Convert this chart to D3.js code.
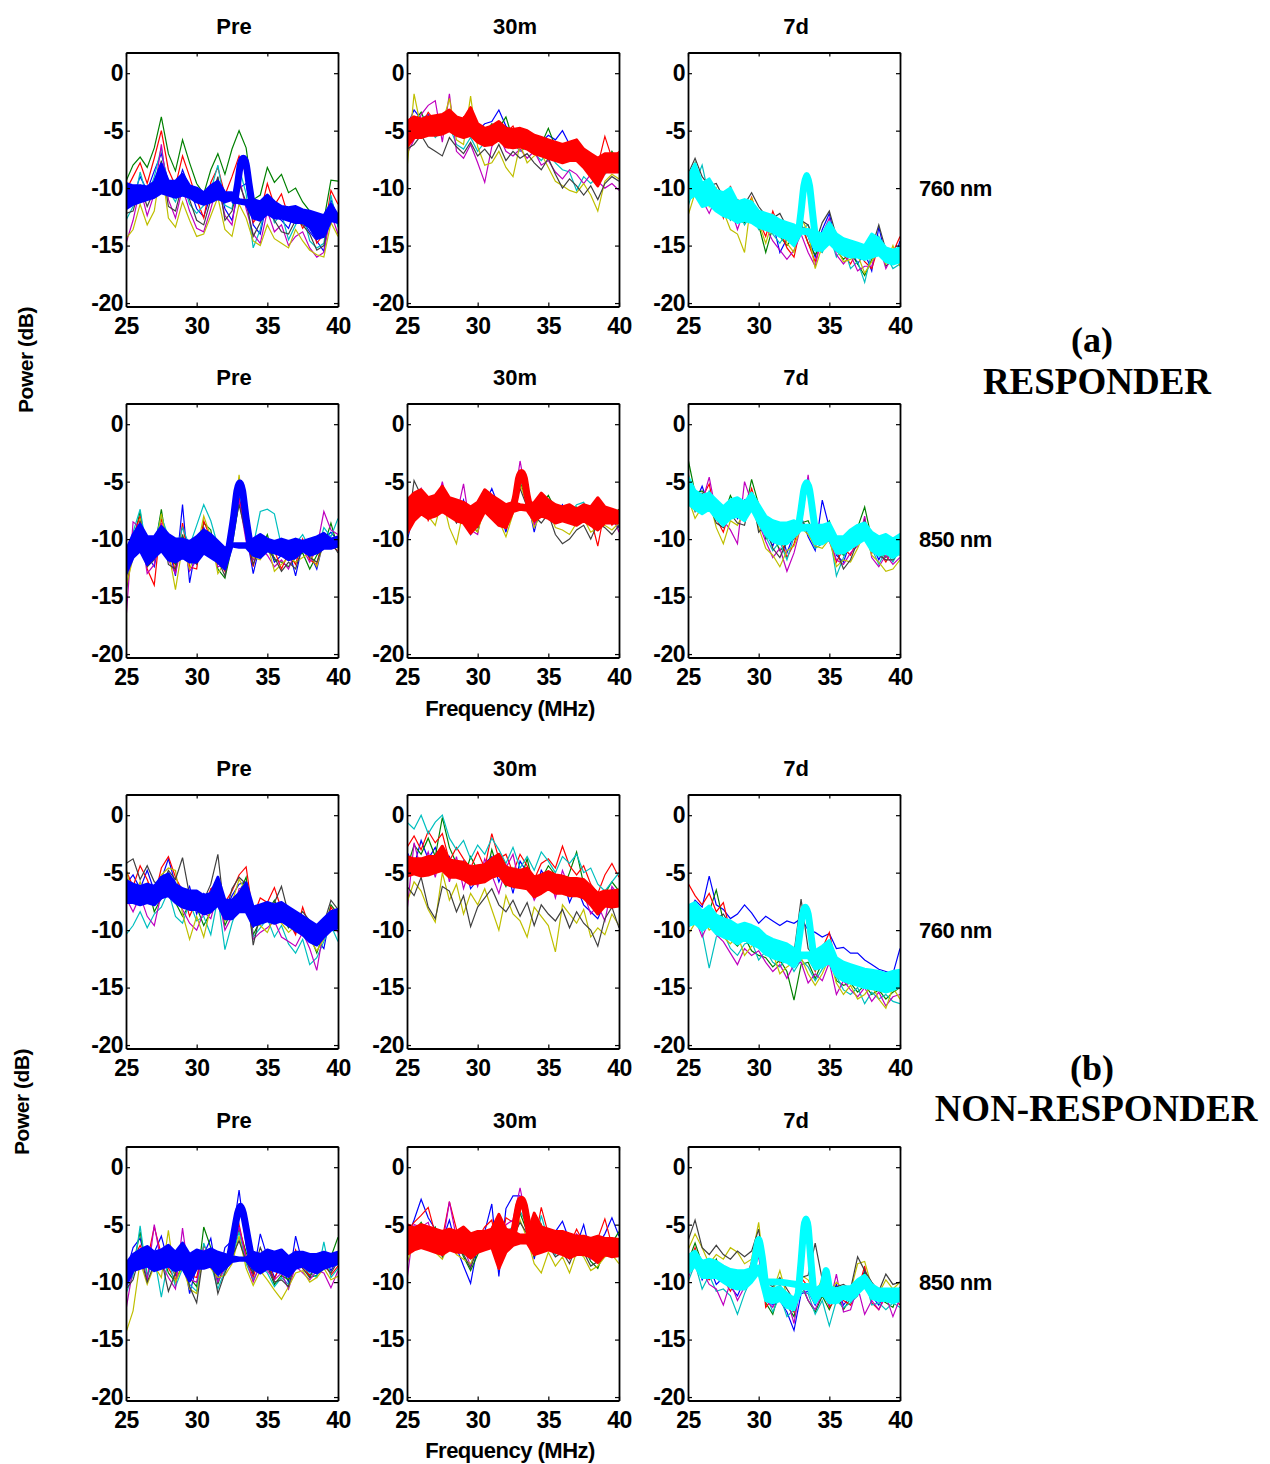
<!DOCTYPE html>
<html>
<head>
<meta charset="utf-8">
<script src="https://cdn.jsdelivr.net/npm/d3@7"></script>
<style>
  body { margin: 0; background: #fff; }
  svg { display: block; }
</style>
</head>
<body>
<script>
'use strict';

// frequency grid (MHz) shared by every trace
const freq = [25, 25.5, 26, 26.5, 27, 27.5, 28, 28.5, 29, 29.5, 30, 30.5, 31, 31.5, 32, 32.5,
  33, 33.5, 34, 34.5, 35, 35.5, 36, 36.5, 37, 37.5, 38, 38.5, 39, 39.5, 40];

const xTicks = [25, 30, 35, 40];
const yTicks = [0, -5, -10, -15, -20];
const sessions = ['Pre', '30m', '7d'];
const wavelengths = ['760 nm', '850 nm', '760 nm', '850 nm'];
// matlab default line order: b g r c m y k
const traceColors = ['#0000ff', '#008000', '#ff0000', '#00bfbf', '#bf00bf', '#bfbf00', '#404040'];
const meanColors = ['#0000ff', '#ff0000', '#00ffff'];

// ---------- RESPONDER, 760 nm ----------
const thinResp760Pre = [
  [-11.5,-10.8,-9.0,-10.2,-8.5,  -7.0,-9.5,-10.4,-8.4,-10.0,  -11.8,-12.5,-10.6,-9.2,-11.8,  -12.8,-10.0,-9.6,-13.2,-14.0,  -11.0,-12.4,-12.8,-13.5,-11.8,  -12.9,-13.8,-14.6,-15.5,-11.0,  -12.6],
  [-9.4,-8.0,-7.3,-8.2,-6.5,  -3.8,-7.0,-8.5,-5.8,-7.8,  -9.6,-10.5,-8.4,-7.0,-8.8,  -6.6,-5.0,-6.5,-11.0,-10.6,  -8.2,-9.5,-8.8,-10.4,-10.0,  -11.2,-12.0,-13.5,-12.8,-9.3,  -9.4],
  [-10.2,-9.0,-7.8,-9.6,-7.4,  -5.0,-8.4,-9.8,-7.2,-9.0,  -11.0,-12.6,-9.5,-8.2,-10.6,  -9.0,-7.2,-8.8,-13.0,-12.2,  -9.6,-11.5,-10.5,-12.5,-12.0,  -13.5,-12.6,-14.8,-14.0,-10.2,  -11.4],
  [-12.8,-11.6,-8.6,-10.8,-9.0,  -6.5,-10.2,-11.2,-9.4,-11.4,  -12.2,-11.5,-10.2,-8.0,-11.5,  -11.8,-8.2,-10.5,-15.2,-13.6,  -10.8,-13.0,-12.2,-14.5,-13.2,  -12.2,-14.6,-15.2,-14.8,-10.6,  -13.4],
  [-14.8,-12.8,-10.0,-12.4,-10.5,  -6.2,-11.0,-12.6,-10.0,-12.0,  -13.5,-13.8,-11.8,-9.6,-12.4,  -13.2,-9.0,-11.8,-14.0,-14.8,  -12.0,-13.8,-13.2,-15.0,-14.2,  -13.8,-15.2,-16.0,-15.6,-12.2,  -14.0],
  [-14.4,-13.6,-11.4,-13.2,-12.0,  -8.0,-12.6,-13.4,-11.2,-12.8,  -14.2,-14.0,-12.4,-10.8,-13.6,  -14.2,-11.4,-12.6,-14.6,-15.0,  -13.2,-14.4,-14.8,-15.2,-13.6,  -14.6,-15.4,-15.8,-16.0,-13.0,  -14.2],
  [-12.2,-12.0,-9.8,-11.6,-10.2,  -7.6,-11.6,-12.0,-9.6,-11.0,  -12.8,-13.2,-11.0,-9.0,-12.8,  -12.0,-9.6,-11.2,-14.2,-13.0,  -11.6,-12.8,-13.8,-14.0,-12.8,  -13.2,-14.0,-15.4,-15.0,-11.8,  -13.0]
];
const hiResp760Pre = [-9.6,-9.8,-9.8,-9.9,-9.5,  -7.9,-9.4,-9.4,-8.8,-9.8,  -10.0,-10.4,-9.8,-9.4,-10.4,  -10.4,-11.0,-11.1,-11.0,-11.2,  -10.6,-11.2,-11.6,-11.7,-11.6,  -11.9,-12.0,-12.2,-12.4,-11.4,  -12.4];
const loResp760Pre = [-11.8,-11.4,-11.2,-11.0,-10.8,  -10.4,-10.6,-10.8,-10.6,-10.8,  -11.2,-11.4,-11.2,-10.9,-11.2,  -11.0,-11.3,-11.4,-12.6,-12.8,  -12.2,-12.6,-12.6,-12.8,-13.0,  -13.0,-13.4,-14.4,-14.2,-12.8,  -13.0];
const peaksResp760Pre = [
  [[32.7,-11.1],[32.9,-9.6],[33.1,-7.9],[33.3,-7.4],[33.5,-7.9],[33.7,-9.6],[33.9,-11.2]]
];

const thinResp760_30m = [
  [-4.6,-3.2,-4.0,-3.6,-4.4,  -3.8,-3.6,-4.4,-4.8,-4.0,  -5.0,-4.4,-4.2,-3.2,-4.6,  -5.2,-4.8,-5.4,-5.6,-6.0,  -5.4,-5.8,-5.0,-6.2,-6.8,  -7.4,-8.2,-9.2,-8.0,-7.6,  -7.2],
  [-5.4,-4.2,-3.4,-4.8,-4.0,  -3.6,-4.8,-5.4,-4.2,-4.8,  -5.6,-5.2,-4.4,-4.8,-3.8,  -5.8,-5.6,-6.2,-5.4,-6.2,  -4.8,-6.4,-6.6,-6.8,-7.4,  -7.0,-7.6,-8.8,-8.2,-6.8,  -7.8],
  [-4.8,-4.4,-4.6,-3.4,-4.2,  -4.6,-4.0,-5.0,-3.8,-3.6,  -5.4,-5.8,-4.8,-4.4,-5.2,  -4.6,-6.0,-5.6,-6.4,-5.8,  -6.2,-6.6,-7.2,-7.0,-6.4,  -7.8,-8.4,-8.0,-5.5,-7.4,  -6.8],
  [-6.2,-5.6,-5.0,-4.4,-5.6,  -5.0,-4.6,-6.2,-6.6,-5.6,  -6.8,-6.0,-5.6,-5.0,-6.2,  -6.0,-6.8,-6.4,-7.0,-7.6,  -6.8,-7.8,-8.4,-8.6,-10.2,  -9.0,-9.6,-9.0,-8.8,-8.2,  -8.6],
  [-7.0,-5.8,-3.6,-2.8,-2.4,  -6.0,-1.8,-6.8,-7.4,-6.2,  -7.8,-9.5,-6.4,-5.4,-6.8,  -7.2,-6.6,-7.4,-6.8,-8.0,  -7.6,-8.6,-9.2,-8.4,-8.8,  -9.6,-8.8,-9.4,-10.0,-9.6,  -10.2],
  [-8.3,-1.8,-4.8,-4.2,-5.2,  -4.4,-2.2,-5.8,-6.2,-2.0,  -6.4,-8.0,-7.8,-6.8,-8.2,  -9.0,-6.2,-7.8,-7.2,-7.0,  -8.2,-9.4,-9.8,-10.2,-10.4,  -9.6,-10.6,-12.0,-9.4,-8.8,  -9.2],
  [-6.6,-6.2,-5.4,-6.4,-6.8,  -7.2,-5.6,-6.4,-7.0,-6.0,  -7.2,-6.6,-7.4,-6.2,-7.6,  -6.8,-7.4,-7.0,-7.8,-8.4,  -7.4,-8.8,-10.0,-9.2,-9.8,  -10.6,-9.8,-11.0,-9.6,-9.0,  -9.4]
];
const hiResp760_30m = [-4.2,-3.8,-4.0,-3.8,-3.7,  -3.6,-3.2,-3.8,-4.0,-3.0,  -4.4,-4.8,-4.6,-4.2,-4.8,  -4.9,-4.8,-5.0,-5.4,-5.6,  -5.8,-6.0,-6.2,-6.0,-5.8,  -6.6,-7.0,-7.4,-7.0,-7.0,  -7.0];
const loResp760_30m = [-6.4,-5.6,-5.6,-5.4,-5.4,  -5.3,-5.0,-5.4,-5.6,-5.4,  -6.0,-6.3,-6.2,-5.8,-6.4,  -6.5,-6.4,-6.6,-7.0,-7.2,  -7.4,-7.6,-7.8,-7.6,-7.6,  -8.2,-9.0,-9.8,-8.6,-8.6,  -8.6];
const peaksResp760_30m = [];

const thinResp760_7d = [
  [-10.4,-8.2,-10.8,-9.6,-11.6,  -11.2,-12.4,-11.4,-12.2,-11.8,  -12.4,-13.6,-13.0,-15.6,-14.4,  -15.0,-13.4,-14.2,-16.0,-13.6,  -12.2,-15.0,-15.6,-15.2,-16.6,  -15.6,-17.2,-13.4,-16.0,-16.6,  -14.6],
  [-9.6,-7.8,-11.2,-10.4,-11.2,  -12.2,-10.8,-12.8,-13.0,-12.6,  -13.2,-15.6,-13.4,-14.2,-15.0,  -14.2,-13.0,-14.8,-15.8,-14.8,  -13.4,-15.4,-16.2,-15.6,-16.6,  -17.6,-16.2,-14.6,-16.8,-16.2,  -15.4],
  [-10.8,-8.8,-10.2,-11.4,-10.6,  -12.6,-9.8,-12.0,-12.4,-10.8,  -12.8,-14.2,-12.0,-13.6,-15.2,  -16.0,-13.2,-14.8,-16.4,-14.4,  -13.0,-14.4,-15.8,-16.6,-15.4,  -16.4,-17.0,-15.0,-16.2,-15.6,  -14.2],
  [-11.6,-9.6,-8.0,-10.8,-11.8,  -11.6,-12.8,-11.8,-13.2,-12.2,  -13.6,-12.6,-14.0,-14.8,-13.8,  -14.4,-13.6,-13.2,-15.2,-15.6,  -14.0,-16.0,-15.0,-17.0,-16.4,  -18.2,-15.6,-14.2,-15.8,-17.0,  -16.6],
  [-10.2,-9.0,-11.0,-12.2,-10.8,  -11.8,-11.6,-13.6,-11.8,-12.8,  -12.2,-13.4,-14.6,-15.4,-16.2,  -15.4,-14.0,-15.6,-16.8,-14.0,  -12.6,-15.8,-16.6,-15.8,-17.2,  -16.8,-16.8,-14.8,-17.0,-15.8,  -15.2],
  [-12.4,-10.4,-9.6,-11.6,-10.0,  -12.0,-13.6,-14.0,-15.6,-10.8,  -13.0,-14.8,-12.8,-13.2,-14.8,  -15.6,-12.6,-13.8,-17.0,-15.0,  -13.6,-15.2,-16.4,-16.2,-15.8,  -17.4,-16.4,-15.4,-16.6,-15.0,  -16.8],
  [-8.8,-7.4,-9.0,-9.8,-9.6,  -10.8,-11.2,-11.0,-11.4,-10.4,  -11.6,-12.4,-12.6,-12.2,-13.4,  -13.8,-12.8,-13.2,-14.8,-13.0,  -12.0,-14.2,-14.6,-15.2,-15.0,  -16.0,-15.2,-13.2,-15.4,-16.0,  -15.8]
];
const hiResp760_7d = [-9.0,-7.9,-9.6,-9.2,-10.2,  -10.4,-10.0,-11.2,-11.0,-11.2,  -12.0,-12.2,-12.4,-12.8,-13.0,  -13.2,-13.6,-13.6,-13.8,-14.0,  -13.0,-14.0,-14.4,-14.6,-14.8,  -15.0,-14.0,-14.4,-15.2,-15.4,  -15.2];
const loResp760_7d = [-11.0,-10.6,-11.6,-11.4,-12.0,  -12.4,-12.6,-13.0,-12.8,-13.0,  -13.4,-13.6,-13.8,-14.2,-14.4,  -15.0,-13.9,-14.0,-15.4,-15.4,  -14.8,-15.4,-15.8,-16.0,-16.0,  -16.2,-16.0,-15.8,-16.4,-16.6,  -16.4];
const peaksResp760_7d = [
  [[32.8,-14.0],[33.0,-12.0],[33.2,-9.8],[33.4,-8.9],[33.6,-9.8],[33.8,-12.0],[34.0,-14.2]]
];

// ---------- RESPONDER, 850 nm ----------
const thinResp850Pre = [
  [-12.4,-10.8,-8.6,-11.4,-12.4,  -9.2,-10.6,-13.2,-7.0,-13.8,  -10.4,-9.0,-10.6,-12.2,-11.0,  -9.8,-6.2,-9.4,-13.0,-10.4,  -10.2,-12.0,-11.4,-10.8,-13.2,  -10.4,-11.2,-12.6,-10.0,-9.4,  -10.2],
  [-14.8,-10.2,-7.6,-12.0,-11.0,  -7.4,-11.4,-12.2,-9.6,-12.0,  -11.2,-8.6,-9.2,-12.6,-13.4,  -10.6,-6.8,-8.8,-11.4,-11.0,  -9.6,-11.8,-12.0,-12.4,-11.6,  -11.2,-12.6,-11.4,-10.6,-8.6,  -10.8],
  [-13.6,-9.8,-8.0,-12.6,-14.0,  -8.2,-10.4,-12.8,-8.6,-12.4,  -12.6,-8.4,-10.0,-11.6,-12.8,  -9.4,-6.4,-9.8,-12.4,-9.8,  -10.8,-11.0,-12.6,-11.2,-12.2,  -10.0,-11.8,-12.2,-9.6,-10.6,  -11.0],
  [-12.0,-9.4,-7.4,-11.2,-10.4,  -8.0,-9.8,-11.4,-9.0,-10.6,  -8.8,-7.0,-8.4,-10.6,-11.6,  -8.0,-6.0,-8.2,-10.6,-7.6,  -7.4,-7.8,-10.6,-11.0,-10.4,  -9.6,-10.8,-11.2,-9.0,-9.8,  -8.2],
  [-17.0,-8.5,-9.0,-13.0,-12.2,  -8.6,-11.8,-13.0,-10.2,-12.8,  -11.8,-9.2,-10.8,-12.4,-12.2,  -10.2,-6.6,-10.2,-11.8,-10.8,  -11.4,-12.4,-11.8,-12.6,-11.0,  -10.8,-12.0,-10.8,-7.6,-9.2,  -9.6],
  [-14.2,-11.6,-8.2,-12.2,-11.4,  -7.8,-11.0,-14.4,-10.6,-12.6,  -11.0,-8.0,-9.8,-13.0,-12.0,  -9.6,-4.4,-9.0,-11.6,-11.8,  -10.4,-12.8,-12.2,-11.6,-12.0,  -11.6,-11.2,-12.4,-10.2,-10.0,  -10.4],
  [-13.2,-11.0,-8.4,-12.4,-11.8,  -8.8,-12.2,-12.6,-9.8,-11.6,  -12.2,-9.6,-10.4,-11.8,-13.2,  -10.0,-7.0,-9.6,-12.2,-10.6,  -11.0,-11.6,-12.8,-12.0,-12.6,  -10.6,-11.6,-12.0,-10.4,-10.2,  -11.2]
];
const hiResp850Pre = [-11.0,-9.6,-8.7,-9.8,-9.8,  -8.9,-9.6,-10.0,-10.0,-10.2,  -9.8,-9.2,-9.6,-10.2,-10.8,  -10.4,-10.4,-10.4,-10.0,-9.6,  -10.0,-10.2,-10.0,-10.2,-10.0,  -10.2,-10.0,-9.8,-9.5,-10.0,  -9.8];
const loResp850Pre = [-13.0,-11.6,-11.0,-12.2,-11.6,  -11.0,-11.8,-12.0,-11.6,-12.0,  -12.0,-11.2,-11.6,-12.0,-12.6,  -10.6,-10.7,-10.7,-11.4,-11.6,  -11.0,-11.2,-11.4,-11.8,-11.6,  -11.0,-11.4,-11.2,-10.8,-10.8,  -10.6];
const peaksResp850Pre = [
  [[32.3,-10.6],[32.6,-8.2],[32.85,-5.8],[33.05,-5.1],[33.25,-5.8],[33.5,-8.2],[33.8,-10.6]]
];

const thinResp850_30m = [
  [-10.2,-7.6,-6.4,-7.8,-6.8,  -5.6,-7.6,-8.4,-6.6,-9.6,  -8.8,-7.0,-5.6,-7.2,-9.4,  -6.8,-4.6,-6.4,-9.4,-6.8,  -7.2,-7.8,-7.0,-8.6,-8.0,  -7.4,-8.8,-8.0,-7.6,-8.4,  -9.0],
  [-8.2,-6.8,-5.8,-7.0,-7.8,  -6.0,-7.0,-7.4,-7.8,-8.6,  -9.4,-6.6,-7.0,-7.8,-8.6,  -7.2,-5.0,-6.8,-7.8,-7.0,  -6.2,-7.4,-7.6,-7.8,-7.2,  -7.6,-8.4,-7.2,-7.8,-8.0,  -7.4],
  [-9.4,-7.2,-6.2,-8.4,-7.2,  -6.4,-6.8,-7.8,-7.0,-8.2,  -8.6,-6.0,-6.4,-7.4,-8.8,  -7.0,-4.8,-6.2,-8.6,-6.4,  -7.6,-8.0,-8.4,-7.2,-8.4,  -7.0,-8.2,-10.6,-7.4,-8.8,  -8.2],
  [-8.0,-6.4,-6.0,-7.4,-7.0,  -5.4,-7.2,-7.6,-6.8,-9.0,  -8.0,-6.4,-6.8,-7.0,-8.0,  -6.4,-4.4,-6.0,-7.6,-6.2,  -6.6,-7.2,-8.0,-7.8,-7.0,  -6.8,-8.0,-7.6,-8.0,-7.6,  -7.8],
  [-9.0,-7.0,-5.6,-7.6,-7.4,  -5.0,-7.8,-8.0,-5.2,-9.2,  -9.6,-6.2,-6.6,-8.2,-9.0,  -7.4,-3.2,-6.6,-8.8,-7.4,  -6.8,-8.6,-7.8,-8.2,-7.6,  -7.2,-8.6,-7.4,-8.4,-7.8,  -9.4],
  [-9.8,-7.4,-6.6,-8.0,-8.8,  -6.4,-9.0,-10.4,-7.4,-8.8,  -9.4,-7.2,-7.4,-8.4,-9.8,  -7.8,-5.2,-7.0,-9.0,-7.8,  -7.4,-9.0,-9.2,-9.6,-8.6,  -8.2,-9.4,-9.0,-8.8,-9.2,  -8.6],
  [-9.6,-4.9,-6.2,-7.2,-7.6,  -5.8,-7.4,-8.6,-7.8,-8.4,  -9.0,-6.8,-7.2,-7.6,-8.4,  -7.6,-5.6,-7.2,-8.0,-8.6,  -7.8,-9.6,-10.4,-10.0,-9.2,  -8.8,-10.0,-8.6,-9.0,-9.6,  -8.8]
];
const hiResp850_30m = [-6.6,-6.0,-5.7,-6.4,-6.2,  -5.4,-6.4,-6.6,-6.8,-7.2,  -6.8,-5.7,-6.2,-6.6,-7.0,  -6.8,-7.0,-7.1,-6.8,-6.0,  -6.6,-7.0,-7.2,-7.0,-7.4,  -7.0,-7.2,-6.4,-7.2,-7.4,  -7.6];
const loResp850_30m = [-9.5,-8.4,-7.8,-8.2,-8.0,  -7.6,-8.0,-8.4,-8.6,-9.5,  -8.8,-7.6,-8.2,-8.8,-9.0,  -7.6,-7.4,-7.5,-8.4,-8.0,  -8.2,-8.6,-8.4,-8.6,-8.8,  -8.4,-8.8,-9.2,-8.6,-8.6,  -8.6];
const peaksResp850_30m = [
  [[32.5,-7.3],[32.7,-6.2],[32.9,-4.7],[33.1,-4.2],[33.3,-4.7],[33.5,-6.2],[33.7,-7.3]]
];

const thinResp850_7d = [
  [-4.8,-6.8,-5.4,-7.2,-6.8,  -8.6,-7.0,-8.2,-6.6,-6.4,  -8.0,-9.4,-10.6,-9.0,-11.2,  -9.6,-8.0,-9.8,-11.0,-6.6,  -9.0,-11.4,-12.0,-10.2,-9.4,  -8.6,-10.4,-11.8,-10.6,-11.4,  -9.6],
  [-3.0,-6.0,-5.8,-6.4,-7.6,  -8.0,-6.2,-7.4,-7.8,-4.8,  -7.0,-10.0,-9.6,-11.0,-10.4,  -9.0,-8.6,-8.4,-9.8,-9.2,  -8.4,-10.8,-11.4,-10.8,-9.0,  -7.2,-10.0,-11.0,-11.6,-11.0,  -10.2],
  [-4.2,-7.2,-6.4,-5.2,-8.2,  -9.4,-7.4,-6.8,-8.0,-5.6,  -7.6,-9.0,-10.2,-9.8,-11.6,  -10.4,-8.4,-9.2,-10.2,-9.8,  -9.6,-12.0,-10.8,-11.4,-10.0,  -8.2,-11.2,-11.0,-12.0,-10.8,  -11.4],
  [-5.0,-6.4,-7.4,-5.8,-7.0,  -8.8,-8.0,-7.8,-7.4,-6.2,  -8.4,-9.8,-11.0,-10.2,-11.8,  -9.8,-8.2,-9.4,-10.8,-10.4,  -9.4,-13.2,-11.6,-10.4,-9.8,  -8.8,-10.8,-12.2,-11.0,-12.0,  -10.8],
  [-5.6,-7.0,-6.8,-4.6,-7.8,  -8.4,-9.2,-10.4,-5.0,-6.8,  -8.6,-10.2,-11.6,-10.8,-12.8,  -11.2,-8.8,-4.4,-9.6,-10.0,  -10.2,-11.8,-12.2,-11.2,-10.6,  -8.0,-11.6,-12.4,-11.4,-12.2,  -11.6],
  [-6.4,-8.2,-7.2,-6.6,-9.0,  -10.4,-8.4,-8.8,-7.6,-7.0,  -9.0,-10.8,-11.4,-12.4,-11.0,  -10.6,-9.0,-9.6,-10.6,-10.8,  -10.0,-12.4,-11.8,-12.0,-10.8,  -9.4,-11.4,-12.0,-12.8,-12.6,  -11.8],
  [-5.8,-7.6,-6.0,-7.0,-8.6,  -9.0,-7.8,-8.6,-8.8,-6.0,  -9.4,-8.8,-10.8,-11.6,-10.2,  -10.0,-8.4,-9.0,-10.4,-9.4,  -9.8,-11.0,-12.6,-11.8,-10.2,  -8.4,-10.6,-11.4,-11.8,-11.8,  -11.0]
];
const hiResp850_7d = [-4.6,-5.8,-6.2,-6.0,-6.6,  -7.2,-6.6,-6.4,-6.8,-6.0,  -7.0,-8.0,-8.4,-8.6,-8.6,  -8.4,-8.8,-8.8,-8.8,-8.8,  -8.6,-9.8,-9.8,-9.2,-8.8,  -8.6,-9.4,-9.8,-9.6,-10.0,  -9.6];
const loResp850_7d = [-6.9,-7.4,-7.8,-7.4,-8.2,  -8.8,-8.2,-8.0,-8.4,-7.4,  -8.6,-9.6,-10.2,-10.4,-10.4,  -9.8,-9.2,-9.2,-10.4,-10.4,  -10.0,-11.2,-11.2,-10.8,-10.4,  -10.0,-11.0,-11.4,-11.2,-11.6,  -11.2];
const peaksResp850_7d = [
  [[32.8,-9.0],[33.0,-7.4],[33.2,-5.7],[33.4,-5.1],[33.6,-5.7],[33.8,-7.4],[34.0,-9.2]]
];

// ---------- NON-RESPONDER, 760 nm ----------
const thinNon760Pre = [
  [-6.0,-5.2,-6.4,-4.8,-6.6,  -5.6,-3.8,-6.0,-7.4,-6.2,  -8.6,-6.8,-7.2,-5.4,-8.4,  -7.0,-6.0,-5.8,-9.8,-8.0,  -9.2,-8.6,-7.6,-9.4,-10.2,  -8.8,-9.6,-10.8,-11.6,-8.4,  -9.4],
  [-5.4,-6.6,-7.8,-6.0,-8.4,  -7.2,-5.0,-7.6,-8.8,-7.8,  -8.0,-9.6,-8.4,-6.4,-9.6,  -8.2,-6.8,-5.4,-10.4,-9.2,  -8.4,-7.4,-8.8,-9.8,-8.6,  -9.6,-10.4,-12.0,-10.2,-7.8,  -8.6],
  [-4.8,-6.2,-4.4,-5.6,-7.2,  -4.6,-3.6,-5.4,-6.6,-8.8,  -7.4,-8.2,-6.4,-6.0,-7.6,  -6.6,-5.2,-4.5,-8.8,-7.2,  -7.6,-6.3,-8.2,-9.2,-10.4,  -8.0,-9.8,-11.2,-10.4,-8.0,  -9.0],
  [-10.4,-9.6,-8.4,-9.8,-8.6,  -8.0,-6.6,-8.8,-9.4,-7.6,  -9.2,-8.8,-10.4,-7.2,-11.7,  -9.4,-7.6,-7.2,-10.6,-9.8,  -9.0,-10.6,-9.6,-11.2,-12.0,  -10.8,-13.0,-12.4,-11.0,-9.6,  -11.0],
  [-7.2,-8.4,-7.0,-8.8,-9.6,  -6.8,-5.8,-7.2,-8.2,-9.4,  -10.0,-8.4,-9.0,-6.8,-10.0,  -8.8,-6.4,-6.2,-10.8,-10.2,  -9.8,-9.2,-10.6,-11.0,-11.4,  -10.2,-11.6,-13.5,-9.8,-9.0,  -10.2],
  [-4.6,-7.4,-5.8,-7.6,-6.8,  -5.2,-4.6,-4.8,-8.6,-10.8,  -8.8,-10.6,-8.0,-5.6,-9.2,  -7.6,-5.6,-6.6,-9.4,-9.6,  -10.2,-8.8,-9.4,-10.2,-9.6,  -9.2,-10.8,-11.8,-10.8,-8.8,  -9.8],
  [-4.2,-3.8,-5.6,-4.4,-5.8,  -6.2,-4.8,-5.6,-3.7,-7.0,  -8.0,-7.4,-6.0,-3.4,-8.8,  -6.4,-5.4,-6.0,-11.3,-8.6,  -8.2,-7.6,-6.2,-8.6,-9.0,  -8.4,-9.2,-10.6,-9.4,-7.4,  -8.2]
];
const hiNon760Pre = [-5.7,-6.0,-6.2,-6.0,-6.2,  -5.4,-5.1,-6.0,-6.4,-6.6,  -6.6,-7.0,-6.8,-5.4,-7.4,  -7.4,-6.8,-5.9,-8.0,-7.8,  -7.6,-7.8,-7.6,-8.0,-8.4,  -8.8,-9.2,-9.6,-9.0,-8.4,  -8.2];
const loNon760Pre = [-7.6,-7.6,-7.8,-7.6,-7.8,  -7.2,-7.0,-7.6,-8.0,-8.2,  -8.2,-8.6,-8.4,-7.8,-9.0,  -9.0,-8.4,-8.4,-9.6,-9.4,  -9.2,-9.4,-9.2,-9.6,-10.0,  -10.4,-11.0,-11.3,-10.6,-10.0,  -9.8];
const peaksNon760Pre = [];

const thinNon760_30m = [
  [-3.2,-4.4,-2.2,-3.8,-2.8,  -4.6,-3.6,-5.2,-4.0,-6.4,  -5.6,-4.2,-3.6,-5.8,-4.4,  -6.8,-4.0,-5.0,-7.0,-4.8,  -5.8,-6.4,-5.4,-7.6,-6.2,  -7.8,-8.4,-9.0,-7.6,-6.4,  -7.6],
  [-4.6,-2.6,-3.4,-2.0,-3.6,  -0.2,-2.8,-4.2,-5.6,-3.6,  -4.8,-5.8,-3.0,-5.0,-6.2,  -4.6,-5.8,-3.8,-6.4,-5.6,  -4.4,-5.2,-6.6,-5.0,-3.2,  -6.0,-7.2,-8.4,-6.8,-5.8,  -6.6],
  [-2.8,-1.8,-3.0,-1.4,-2.4,  -1.6,-4.0,-2.8,-3.8,-4.6,  -3.2,-4.6,-1.6,-3.8,-3.4,  -5.0,-3.4,-4.4,-5.6,-4.2,  -3.8,-4.6,-2.7,-4.4,-5.2,  -4.4,-6.0,-6.8,-5.2,-4.2,  -5.4],
  [-0.6,-1.2,0.0,-1.6,-0.6,  0.0,-2.0,-3.0,-2.2,-3.8,  -2.6,-3.4,-2.0,-3.0,-4.2,  -2.8,-4.6,-3.6,-4.8,-3.2,  -4.0,-5.0,-3.6,-4.2,-3.4,  -5.0,-4.6,-6.0,-6.6,-5.8,  -5.0],
  [-8.4,-2.4,-4.8,-3.2,-5.4,  -2.8,-5.8,-3.6,-6.4,-4.4,  -6.2,-3.8,-5.2,-6.8,-4.6,  -3.4,-6.2,-5.6,-7.4,-6.2,  -5.0,-7.2,-4.8,-6.4,-5.6,  -6.8,-8.6,-7.8,-9.2,-6.2,  -7.0],
  [-7.6,-5.8,-6.6,-8.2,-9.3,  -5.0,-7.4,-6.0,-8.6,-6.8,  -7.8,-6.4,-8.2,-10.0,-7.0,  -8.6,-9.2,-10.6,-8.0,-8.8,  -9.6,-11.9,-7.8,-8.6,-9.4,  -8.2,-10.6,-9.8,-10.4,-8.6,  -9.6],
  [-6.2,-7.0,-5.4,-8.0,-9.0,  -6.2,-6.6,-8.4,-7.0,-9.7,  -8.0,-7.2,-6.4,-7.8,-8.4,  -7.4,-8.8,-7.6,-9.6,-7.8,  -8.6,-9.2,-8.2,-9.8,-8.4,  -9.4,-10.0,-11.4,-9.0,-8.0,  -9.8]
];
const hiNon760_30m = [-3.6,-3.8,-3.8,-3.6,-3.6,  -2.7,-3.9,-4.0,-4.1,-4.5,  -4.4,-4.3,-3.8,-3.4,-4.5,  -4.7,-4.8,-4.6,-5.4,-5.2,  -4.9,-5.2,-5.3,-5.5,-5.5,  -5.6,-6.2,-6.8,-6.6,-6.6,  -6.5];
const loNon760_30m = [-5.3,-5.1,-5.3,-5.2,-5.0,  -4.8,-5.4,-5.4,-5.6,-6.0,  -5.9,-5.8,-5.4,-5.2,-6.0,  -6.2,-6.3,-6.4,-7.1,-6.8,  -6.4,-6.8,-6.8,-7.0,-7.0,  -7.2,-7.8,-8.6,-7.9,-8.0,  -7.9];
const peaksNon760_30m = [];

const thinNon760_7d = [
  [-8.6,-7.4,-8.0,-5.3,-7.8,  -8.2,-9.0,-8.6,-7.8,-8.5,  -9.4,-8.8,-9.2,-9.6,-9.2,  -9.4,-9.0,-10.0,-10.2,-10.6,  -10.3,-11.6,-11.5,-12.0,-12.0,  -12.6,-13.0,-13.4,-13.6,-13.8,  -11.6],
  [-8.0,-8.8,-9.6,-8.4,-6.5,  -9.2,-10.8,-11.4,-10.6,-11.8,  -12.2,-12.4,-13.2,-12.6,-13.6,  -16.1,-13.0,-12.8,-14.2,-12.8,  -12.0,-14.4,-14.8,-14.6,-15.4,  -14.8,-15.6,-15.2,-16.0,-15.4,  -15.0],
  [-5.9,-7.0,-7.8,-6.8,-8.4,  -7.6,-10.2,-9.8,-9.4,-10.8,  -10.2,-11.4,-11.0,-12.8,-11.8,  -12.6,-12.0,-12.4,-13.6,-11.6,  -10.2,-13.2,-14.2,-13.4,-14.2,  -13.6,-14.6,-14.0,-15.2,-14.2,  -14.6],
  [-9.4,-8.6,-10.2,-13.3,-10.6,  -10.2,-11.6,-12.2,-11.2,-11.0,  -12.6,-11.8,-12.8,-13.2,-12.4,  -13.6,-12.6,-13.2,-14.4,-13.4,  -12.6,-14.0,-15.2,-15.6,-15.0,  -16.4,-15.4,-16.0,-15.6,-16.2,  -16.4],
  [-9.8,-9.0,-10.6,-9.2,-10.4,  -11.0,-12.0,-13.0,-11.6,-12.2,  -11.8,-12.8,-13.6,-13.0,-14.2,  -13.0,-12.8,-14.6,-13.8,-14.4,  -12.8,-15.6,-14.4,-15.2,-15.8,  -15.0,-16.2,-15.4,-16.6,-15.8,  -15.6],
  [-10.4,-9.4,-8.8,-10.0,-9.6,  -10.6,-11.2,-10.4,-12.2,-11.4,  -11.0,-12.2,-12.0,-13.8,-13.2,  -12.8,-12.4,-13.8,-14.8,-13.8,  -12.4,-14.6,-15.6,-14.8,-16.0,  -15.6,-14.8,-16.0,-16.8,-15.0,  -16.0],
  [-8.2,-7.8,-8.6,-8.0,-9.0,  -8.6,-9.6,-10.0,-9.8,-10.2,  -10.8,-10.6,-11.4,-11.8,-11.6,  -12.0,-7.3,-11.6,-12.4,-12.2,  -11.4,-13.0,-13.4,-13.8,-13.6,  -14.2,-14.4,-14.8,-14.2,-14.6,  -14.0]
];
const hiNon760_7d = [-7.9,-7.6,-8.4,-7.9,-8.7,  -9.0,-9.2,-9.6,-9.4,-9.6,  -9.9,-10.5,-10.8,-11.0,-11.2,  -11.6,-12.0,-12.0,-11.8,-11.4,  -10.9,-12.4,-12.8,-13.0,-13.2,  -13.4,-13.5,-13.6,-13.8,-13.6,  -13.5];
const loNon760_7d = [-9.6,-9.4,-10.0,-9.6,-10.3,  -10.6,-10.8,-11.2,-10.8,-11.2,  -11.5,-12.1,-12.4,-12.6,-12.8,  -13.2,-12.4,-12.4,-13.4,-13.2,  -12.8,-14.0,-14.4,-14.6,-14.8,  -15.0,-15.1,-15.2,-15.4,-15.2,  -14.9];
const peaksNon760_7d = [
  [[32.7,-12.2],[32.9,-10.4],[33.1,-8.6],[33.3,-8.0],[33.5,-8.6],[33.7,-10.4],[33.9,-12.3]]
];

// ---------- NON-RESPONDER, 850 nm ----------
const thinNon850Pre = [
  [-9.2,-7.0,-6.2,-8.6,-7.4,  -6.0,-8.4,-9.4,-7.2,-11.0,  -8.6,-7.6,-6.2,-9.8,-7.0,  -6.4,-2.0,-6.8,-9.4,-5.8,  -7.8,-9.6,-8.6,-10.0,-6.0,  -8.4,-9.0,-8.2,-7.6,-9.0,  -8.0],
  [-10.2,-8.6,-5.6,-9.4,-8.0,  -7.2,-9.2,-10.0,-8.4,-9.6,  -10.4,-5.2,-7.0,-10.2,-8.2,  -7.6,-5.4,-7.4,-9.0,-8.2,  -8.6,-10.2,-9.4,-9.8,-8.8,  -8.2,-9.6,-9.4,-8.4,-7.8,  -6.1],
  [-9.6,-8.0,-6.8,-8.2,-5.2,  -7.6,-8.8,-9.8,-7.0,-9.4,  -9.6,-6.8,-7.8,-9.2,-8.6,  -7.0,-5.0,-7.8,-9.6,-7.6,  -8.2,-9.8,-8.0,-9.6,-7.2,  -8.8,-9.4,-8.6,-8.2,-9.4,  -8.6],
  [-11.0,-9.4,-5.1,-9.6,-7.8,  -11.3,-8.0,-10.4,-8.8,-10.2,  -10.8,-6.6,-8.4,-10.6,-9.0,  -8.0,-5.6,-8.4,-9.8,-8.6,  -9.2,-10.4,-9.6,-10.2,-8.4,  -8.6,-9.2,-9.6,-6.5,-9.6,  -8.8],
  [-12.4,-8.8,-7.2,-9.8,-5.0,  -8.4,-9.6,-10.6,-5.3,-9.8,  -10.0,-7.2,-8.0,-10.0,-8.8,  -7.4,-5.2,-8.0,-10.0,-8.4,  -9.0,-9.8,-9.2,-10.6,-8.6,  -9.2,-9.8,-9.0,-9.2,-10.5,  -9.0],
  [-14.4,-12.5,-8.2,-10.2,-8.6,  -9.6,-5.5,-10.0,-8.6,-10.6,  -11.0,-7.6,-8.8,-9.6,-9.4,  -8.4,-6.0,-8.8,-10.3,-9.0,  -9.8,-10.7,-11.5,-10.4,-9.2,  -9.0,-10.0,-9.6,-8.8,-9.8,  -9.5],
  [-10.6,-9.8,-7.6,-10.0,-8.4,  -8.0,-10.8,-9.2,-7.8,-10.4,  -11.8,-7.4,-7.6,-11.0,-9.2,  -7.8,-6.4,-8.2,-9.2,-7.0,  -8.4,-10.0,-9.8,-10.4,-8.0,  -8.8,-9.6,-8.4,-8.6,-9.2,  -8.2]
];
const hiNon850Pre = [-8.4,-7.6,-7.2,-6.9,-7.4,  -7.2,-6.8,-7.4,-6.6,-7.6,  -7.2,-7.4,-7.1,-7.4,-7.6,  -7.8,-7.9,-7.9,-7.4,-7.6,  -7.2,-7.4,-7.2,-7.8,-7.4,  -7.4,-7.6,-7.6,-7.4,-7.6,  -7.4];
const loNon850Pre = [-10.3,-9.0,-8.8,-8.6,-9.0,  -8.8,-8.6,-9.0,-8.8,-9.9,  -8.8,-8.8,-8.6,-9.3,-8.8,  -8.2,-8.1,-8.1,-8.8,-9.2,  -8.8,-9.0,-9.2,-9.5,-8.8,  -8.6,-9.0,-9.2,-8.8,-8.6,  -8.4];
const peaksNon850Pre = [
  [[32.3,-8.0],[32.6,-6.0],[32.9,-4.0],[33.1,-3.4],[33.3,-4.0],[33.6,-6.0],[33.9,-8.0]]
];

const thinNon850_30m = [
  [-6.2,-4.6,-2.8,-4.4,-5.4,  -6.4,-4.6,-7.0,-8.6,-10.1,  -6.8,-5.6,-3.2,-9.5,-3.6,  -2.5,-2.5,-3.4,-8.0,-5.4,  -6.8,-5.6,-4.7,-6.4,-6.8,  -5.0,-7.6,-6.8,-5.8,-4.4,  -6.0],
  [-7.0,-5.6,-4.8,-6.0,-5.2,  -7.4,-5.8,-6.4,-7.8,-9.0,  -7.6,-6.2,-5.4,-8.6,-6.0,  -5.8,-4.0,-5.6,-7.8,-5.0,  -6.6,-7.2,-6.8,-7.6,-6.2,  -7.0,-8.2,-8.8,-7.2,-6.6,  -5.6],
  [-5.6,-4.8,-4.2,-3.5,-5.8,  -6.2,-3.0,-5.4,-6.4,-7.4,  -6.2,-5.2,-4.6,-7.8,-4.4,  -4.8,-3.2,-4.6,-6.8,-3.5,  -5.8,-6.4,-5.6,-6.8,-5.4,  -6.6,-7.4,-6.2,-4.5,-6.8,  -6.4],
  [-6.6,-5.2,-5.6,-5.8,-6.4,  -7.2,-6.0,-6.8,-7.2,-8.0,  -6.4,-6.0,-5.8,-7.6,-5.6,  -5.2,-3.8,-5.0,-7.4,-4.2,  -6.4,-7.6,-6.0,-7.2,-6.6,  -6.0,-7.8,-8.0,-7.0,-6.4,  -7.2],
  [-9.8,-5.0,-5.2,-4.8,-6.8,  -6.8,-3.0,-6.2,-7.0,-8.6,  -6.6,-6.4,-5.2,-8.2,-5.0,  -4.6,-1.8,-4.8,-7.6,-5.6,  -7.0,-6.8,-6.4,-8.0,-5.8,  -6.4,-8.0,-7.4,-6.6,-7.0,  -7.6],
  [-8.4,-6.4,-6.0,-6.6,-7.4,  -8.0,-6.6,-7.6,-8.0,-8.4,  -7.2,-7.0,-6.4,-8.8,-6.8,  -6.4,-4.6,-6.2,-8.4,-9.2,  -7.4,-8.6,-7.8,-9.2,-7.4,  -7.8,-9.0,-8.6,-7.8,-7.6,  -8.4],
  [-7.4,-6.8,-6.2,-7.0,-6.0,  -7.8,-6.4,-7.2,-7.6,-8.8,  -7.0,-6.6,-6.0,-8.4,-6.4,  -6.0,-4.8,-5.8,-7.2,-6.0,  -6.8,-7.8,-7.4,-8.4,-6.8,  -7.4,-8.6,-8.2,-7.4,-7.2,  -7.8]
];
const hiNon850_30m = [-5.0,-5.3,-5.0,-5.2,-5.4,  -5.6,-5.4,-5.6,-5.2,-5.8,  -5.6,-5.6,-5.4,-4.1,-5.4,  -5.6,-5.9,-5.9,-4.0,-5.2,  -5.4,-5.6,-5.6,-5.8,-6.0,  -6.0,-6.2,-6.0,-6.2,-6.2,  -6.3];
const loNon850_30m = [-7.6,-7.2,-7.0,-7.2,-7.4,  -7.6,-7.2,-7.4,-7.4,-7.9,  -7.4,-7.2,-7.0,-8.8,-7.4,  -6.8,-6.6,-6.6,-7.6,-7.4,  -7.2,-7.4,-7.6,-7.9,-7.6,  -7.6,-7.8,-8.3,-7.6,-7.8,  -7.7];
const peaksNon850_30m = [
  [[32.4,-6.6],[32.65,-5.0],[32.9,-3.3],[33.1,-2.8],[33.3,-3.3],[33.55,-5.0],[33.8,-6.6]]
];

const thinNon850_7d = [
  [-9.2,-7.8,-9.8,-8.6,-10.2,  -9.6,-10.4,-11.2,-9.8,-9.0,  -7.0,-11.4,-12.0,-11.6,-12.6,  -14.2,-11.0,-10.8,-12.0,-10.6,  -11.6,-10.2,-12.0,-11.2,-10.6,  -9.0,-11.2,-12.0,-10.8,-11.6,  -11.0],
  [-8.2,-6.6,-8.4,-9.2,-8.0,  -9.8,-9.0,-10.4,-10.6,-8.6,  -6.6,-11.8,-12.8,-10.6,-12.0,  -13.0,-10.2,-11.6,-12.6,-11.2,  -12.4,-11.0,-12.4,-11.4,-10.2,  -9.2,-10.6,-11.4,-11.8,-12.2,  -10.4],
  [-8.6,-7.0,-9.2,-9.8,-9.0,  -9.7,-10.8,-9.6,-10.2,-8.2,  -6.4,-12.2,-11.4,-10.2,-11.8,  -12.6,-9.6,-10.4,-11.6,-10.2,  -12.2,-11.4,-11.6,-12.0,-10.8,  -8.6,-11.8,-12.4,-11.0,-11.2,  -12.0],
  [-10.0,-8.4,-10.6,-9.4,-10.8,  -10.6,-11.2,-12.8,-11.0,-9.6,  -7.4,-11.0,-12.6,-11.2,-13.0,  -12.4,-10.8,-11.0,-12.8,-11.6,  -13.8,-11.6,-12.2,-11.8,-11.2,  -9.6,-12.0,-11.8,-12.4,-11.8,  -12.2],
  [-9.8,-7.4,-9.0,-10.2,-10.6,  -12.0,-10.0,-11.6,-10.4,-9.2,  -7.8,-11.6,-12.2,-10.8,-11.4,  -13.6,-10.0,-11.6,-12.4,-11.0,  -12.0,-9.3,-12.6,-12.4,-10.4,  -12.8,-11.6,-12.4,-11.2,-13.0,  -11.4],
  [-7.2,-5.8,-7.0,-8.4,-7.6,  -8.0,-7.0,-7.4,-8.4,-8.0,  -4.8,-10.2,-10.8,-9.0,-11.2,  -12.2,-9.4,-9.8,-11.2,-9.6,  -11.0,-10.0,-10.6,-10.8,-8.4,  -8.2,-10.4,-11.0,-9.8,-10.6,  -10.0],
  [-6.4,-4.6,-7.0,-7.6,-6.8,  -7.6,-8.0,-7.3,-7.8,-7.3,  -5.4,-10.0,-10.4,-9.6,-10.6,  -11.6,-9.6,-9.4,-6.6,-9.8,  -10.6,-10.4,-10.2,-10.6,-7.8,  -9.0,-10.0,-10.8,-9.3,-10.2,  -10.0]
];
const hiNon850_7d = [-7.7,-7.3,-8.2,-8.0,-8.2,  -8.6,-8.9,-9.0,-9.0,-8.8,  -8.6,-10.4,-10.6,-10.4,-11.0,  -11.4,-10.2,-10.2,-10.6,-10.2,  -10.4,-10.6,-10.4,-10.4,-9.8,  -9.4,-10.2,-10.6,-10.6,-10.6,  -10.6];
const loNon850_7d = [-9.2,-8.6,-9.6,-9.6,-9.6,  -10.0,-10.4,-10.6,-10.6,-10.0,  -9.2,-11.6,-11.8,-11.6,-12.2,  -12.4,-10.6,-10.6,-11.8,-11.0,  -11.8,-11.8,-11.4,-11.6,-11.0,  -10.4,-11.4,-11.6,-11.6,-11.8,  -11.6];
const peaksNon850_7d = [
  [[29.5,-9.4],[29.75,-7.8],[30.0,-6.3],[30.25,-7.8],[30.5,-10.4]],
  [[30.4,-10.0],[31.5,-10.0],[32.7,-10.2]],
  [[32.8,-11.0],[33.0,-8.2],[33.2,-5.2],[33.35,-4.5],[33.5,-5.2],[33.7,-8.2],[33.9,-11.0]],
  [[34.5,-11.0],[34.75,-9.0],[35.0,-10.6]]
];

// ---------- layout ----------
const panels = [
  { row: 0, col: 0, thin: thinResp760Pre, hi: hiResp760Pre, lo: loResp760Pre, peaks: peaksResp760Pre },
  { row: 0, col: 1, thin: thinResp760_30m, hi: hiResp760_30m, lo: loResp760_30m, peaks: peaksResp760_30m },
  { row: 0, col: 2, thin: thinResp760_7d, hi: hiResp760_7d, lo: loResp760_7d, peaks: peaksResp760_7d },
  { row: 1, col: 0, thin: thinResp850Pre, hi: hiResp850Pre, lo: loResp850Pre, peaks: peaksResp850Pre },
  { row: 1, col: 1, thin: thinResp850_30m, hi: hiResp850_30m, lo: loResp850_30m, peaks: peaksResp850_30m },
  { row: 1, col: 2, thin: thinResp850_7d, hi: hiResp850_7d, lo: loResp850_7d, peaks: peaksResp850_7d },
  { row: 2, col: 0, thin: thinNon760Pre, hi: hiNon760Pre, lo: loNon760Pre, peaks: peaksNon760Pre },
  { row: 2, col: 1, thin: thinNon760_30m, hi: hiNon760_30m, lo: loNon760_30m, peaks: peaksNon760_30m },
  { row: 2, col: 2, thin: thinNon760_7d, hi: hiNon760_7d, lo: loNon760_7d, peaks: peaksNon760_7d },
  { row: 3, col: 0, thin: thinNon850Pre, hi: hiNon850Pre, lo: loNon850Pre, peaks: peaksNon850Pre },
  { row: 3, col: 1, thin: thinNon850_30m, hi: hiNon850_30m, lo: loNon850_30m, peaks: peaksNon850_30m },
  { row: 3, col: 2, thin: thinNon850_7d, hi: hiNon850_7d, lo: loNon850_7d, peaks: peaksNon850_7d }
];

const W = 212, H = 254;
const colX = [126, 407, 688];
const rowY = [52.5, 403.5, 794.5, 1146.5];
const sans = "'Liberation Sans', Arial, Helvetica, sans-serif";
const serif = "'Liberation Serif', 'Times New Roman', serif";

const svg = d3.select('body').append('svg')
  .attr('width', 1270)
  .attr('height', 1464)
  .style('font-family', sans);

const x = d3.scaleLinear().domain([25, 40]).range([0, W]);
const y = d3.scaleLinear().domain([-20.3, 1.8]).range([H, 0]);

svg.append('defs').append('clipPath').attr('id', 'clip')
  .append('rect').attr('width', W).attr('height', H);

const traceLine = d3.line().x((d, i) => x(freq[i])).y(d => y(d));
const peakLine = d3.line().x(d => x(d[0])).y(d => y(d[1])).curve(d3.curveCardinal.tension(0.2));
// plain hyphen like the original, not the unicode minus d3 uses
const plainNum = d => String(d);

panels.forEach(p => {
  const g = svg.append('g').attr('transform', `translate(${colX[p.col]},${rowY[p.row]})`);
  const plot = g.append('g').attr('clip-path', 'url(#clip)');
  const mean = meanColors[p.col];

  p.thin.forEach((s, j) => {
    plot.append('path')
      .attr('d', traceLine(s))
      .attr('fill', 'none')
      .attr('stroke', traceColors[j])
      .attr('stroke-width', 1.2);
  });

  // mean spectrum drawn as a heavy jittery band
  const band = d3.area()
    .x((d, i) => x(freq[i]))
    .y0((d, i) => y(p.lo[i]))
    .y1(d => y(d));
  plot.append('path')
    .attr('d', band(p.hi))
    .attr('fill', mean)
    .attr('stroke', mean)
    .attr('stroke-width', 3)
    .attr('stroke-linejoin', 'round');

  p.peaks.forEach(pk => {
    plot.append('path')
      .attr('d', peakLine(pk))
      .attr('fill', 'none')
      .attr('stroke', mean)
      .attr('stroke-width', 7)
      .attr('stroke-linecap', 'round')
      .attr('stroke-linejoin', 'round');
  });

  // box axes, ticks pointing inward
  const styleAxis = sel => {
    sel.selectAll('path.domain').attr('stroke', '#000').attr('stroke-width', 1.8);
    sel.selectAll('.tick line').attr('stroke', '#000').attr('stroke-width', 1.2);
    sel.selectAll('text')
      .attr('fill', '#000')
      .style('font-family', sans)
      .style('font-weight', 'bold')
      .style('font-size', '23px')
      .style('letter-spacing', '-0.5px');
  };

  g.append('g').attr('transform', `translate(0,${H})`)
    .call(d3.axisBottom(x).tickValues(xTicks).tickFormat(plainNum).tickSize(-4).tickSizeOuter(0).tickPadding(11))
    .call(styleAxis);
  g.append('g')
    .call(d3.axisLeft(y).tickValues(yTicks).tickFormat(plainNum).tickSize(-4).tickSizeOuter(0).tickPadding(3))
    .call(styleAxis);
  g.append('g')
    .call(d3.axisTop(x).tickValues(xTicks).tickSize(-4).tickSizeOuter(0).tickFormat(''))
    .call(styleAxis);
  g.append('g').attr('transform', `translate(${W},0)`)
    .call(d3.axisRight(y).tickValues(yTicks).tickSize(-4).tickSizeOuter(0).tickFormat(''))
    .call(styleAxis);

  g.append('text')
    .attr('x', W / 2 + 2)
    .attr('y', -19)
    .attr('text-anchor', 'middle')
    .style('font-weight', 'bold')
    .style('font-size', '22px')
    .text(sessions[p.col]);

  if (p.col === 2) {
    g.append('text')
      .attr('x', 919 - colX[2])
      .attr('y', y(-10) + 8)
      .style('font-weight', 'bold')
      .style('font-size', '22px')
      .style('letter-spacing', '-0.5px')
      .text(wavelengths[p.row]);
  }
});

// shared axis titles
[716, 1458].forEach(yy => {
  svg.append('text')
    .attr('x', colX[1] + W / 2 - 3)
    .attr('y', yy)
    .attr('text-anchor', 'middle')
    .style('font-weight', 'bold')
    .style('font-size', '22px')
    .style('letter-spacing', '-0.5px')
    .text('Frequency (MHz)');
});

[[33, 360], [29, 1102]].forEach(([px, py]) => {
  svg.append('text')
    .attr('transform', `translate(${px},${py}) rotate(-90)`)
    .attr('text-anchor', 'middle')
    .style('font-weight', 'bold')
    .style('font-size', '21px')
    .style('letter-spacing', '-0.5px')
    .text('Power (dB)');
});

// group labels
const groupLabels = [
  { text: '(a)', x: 1092, y: 352, size: 36 },
  { text: 'RESPONDER', x: 1097, y: 394, size: 37 },
  { text: '(b)', x: 1092, y: 1080, size: 36 },
  { text: 'NON-RESPONDER', x: 1096, y: 1121, size: 37 }
];
groupLabels.forEach(l => {
  svg.append('text')
    .attr('x', l.x)
    .attr('y', l.y)
    .attr('text-anchor', 'middle')
    .style('font-family', serif)
    .style('font-weight', 'bold')
    .style('font-size', l.size + 'px')
    .text(l.text);
});
</script>
</body>
</html>
